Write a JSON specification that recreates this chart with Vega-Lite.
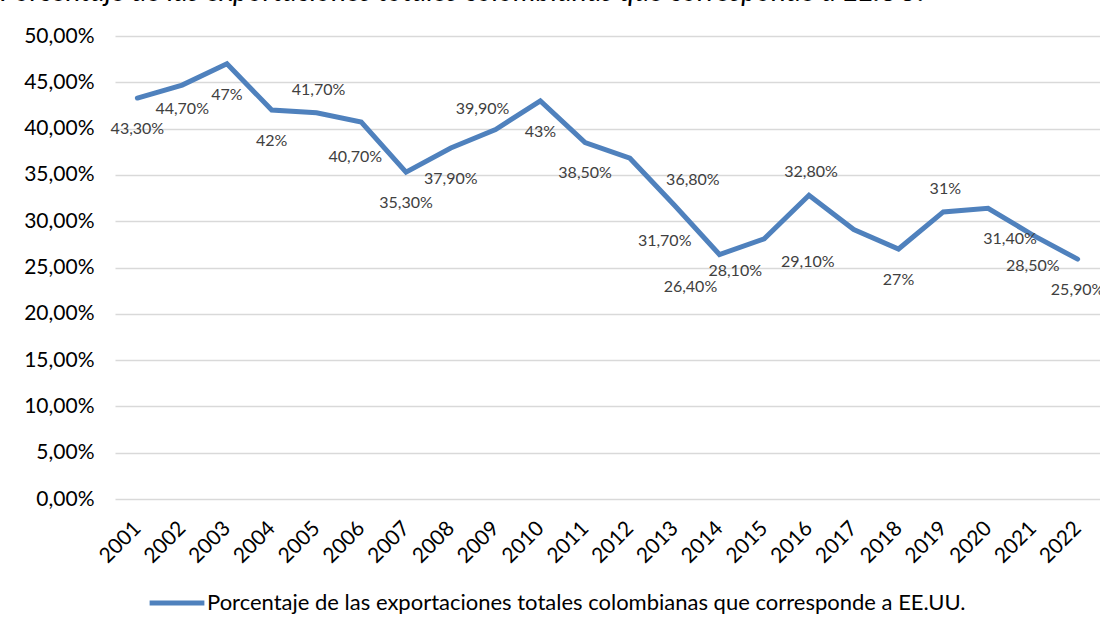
{
  "$schema": "https://vega.github.io/schema/vega-lite/v6.json",
  "width": 985,
  "height": 463,
  "autosize": {"type": "none"},
  "padding": {"left": 115, "top": 36, "right": 0, "bottom": 133},
  "title": {
    "text": "Porcentaje de las exportaciones totales colombianas que corresponde a EE.UU.",
    "anchor": "start",
    "frame": "group",
    "dx": -115,
    "dy": 12,
    "offset": 8,
    "baseline": "alphabetic",
    "fontStyle": "italic",
    "fontWeight": "normal",
    "fontSize": 28.5,
    "font": "Lato",
    "color": "#000000"
  },
  "data": {
    "values": [
      {"year": "2001", "value": 43.3, "label": "43,30%", "serie": "Porcentaje de las exportaciones totales colombianas que corresponde a EE.UU."},
      {"year": "2002", "value": 44.7, "label": "44,70%", "serie": "Porcentaje de las exportaciones totales colombianas que corresponde a EE.UU."},
      {"year": "2003", "value": 47.0, "label": "47%", "serie": "Porcentaje de las exportaciones totales colombianas que corresponde a EE.UU."},
      {"year": "2004", "value": 42.0, "label": "42%", "serie": "Porcentaje de las exportaciones totales colombianas que corresponde a EE.UU."},
      {"year": "2005", "value": 41.7, "label": "41,70%", "serie": "Porcentaje de las exportaciones totales colombianas que corresponde a EE.UU."},
      {"year": "2006", "value": 40.7, "label": "40,70%", "serie": "Porcentaje de las exportaciones totales colombianas que corresponde a EE.UU."},
      {"year": "2007", "value": 35.3, "label": "35,30%", "serie": "Porcentaje de las exportaciones totales colombianas que corresponde a EE.UU."},
      {"year": "2008", "value": 37.9, "label": "37,90%", "serie": "Porcentaje de las exportaciones totales colombianas que corresponde a EE.UU."},
      {"year": "2009", "value": 39.9, "label": "39,90%", "serie": "Porcentaje de las exportaciones totales colombianas que corresponde a EE.UU."},
      {"year": "2010", "value": 43.0, "label": "43%", "serie": "Porcentaje de las exportaciones totales colombianas que corresponde a EE.UU."},
      {"year": "2011", "value": 38.5, "label": "38,50%", "serie": "Porcentaje de las exportaciones totales colombianas que corresponde a EE.UU."},
      {"year": "2012", "value": 36.8, "label": "36,80%", "serie": "Porcentaje de las exportaciones totales colombianas que corresponde a EE.UU."},
      {"year": "2013", "value": 31.7, "label": "31,70%", "serie": "Porcentaje de las exportaciones totales colombianas que corresponde a EE.UU."},
      {"year": "2014", "value": 26.4, "label": "26,40%", "serie": "Porcentaje de las exportaciones totales colombianas que corresponde a EE.UU."},
      {"year": "2015", "value": 28.1, "label": "28,10%", "serie": "Porcentaje de las exportaciones totales colombianas que corresponde a EE.UU."},
      {"year": "2016", "value": 32.8, "label": "32,80%", "serie": "Porcentaje de las exportaciones totales colombianas que corresponde a EE.UU."},
      {"year": "2017", "value": 29.1, "label": "29,10%", "serie": "Porcentaje de las exportaciones totales colombianas que corresponde a EE.UU."},
      {"year": "2018", "value": 27.0, "label": "27%", "serie": "Porcentaje de las exportaciones totales colombianas que corresponde a EE.UU."},
      {"year": "2019", "value": 31.0, "label": "31%", "serie": "Porcentaje de las exportaciones totales colombianas que corresponde a EE.UU."},
      {"year": "2020", "value": 31.4, "label": "31,40%", "serie": "Porcentaje de las exportaciones totales colombianas que corresponde a EE.UU."},
      {"year": "2021", "value": 28.5, "label": "28,50%", "serie": "Porcentaje de las exportaciones totales colombianas que corresponde a EE.UU."},
      {"year": "2022", "value": 25.9, "label": "25,90%", "serie": "Porcentaje de las exportaciones totales colombianas que corresponde a EE.UU."}
    ]
  },
  "encoding": {
    "x": {
      "field": "year",
      "type": "ordinal",
      "scale": {"type": "point", "padding": 0.5},
      "axis": {
        "title": null,
        "labelAngle": -45,
        "labelAlign": "right",
        "labelBaseline": "middle",
        "labelFontSize": 21,
        "labelFont": "Lato",
        "labelColor": "#000000",
        "labelPadding": 26,
        "ticks": false,
        "domain": false,
        "grid": false
      }
    },
    "y": {
      "field": "value",
      "type": "quantitative",
      "scale": {"domain": [0, 50], "nice": false},
      "axis": {
        "title": null,
        "values": [0, 5, 10, 15, 20, 25, 30, 35, 40, 45, 50],
        "labelExpr": "replace(format(datum.value, '.2f'), '.', ',') + '%'",
        "labelFontSize": 21,
        "labelFont": "Lato",
        "labelColor": "#000000",
        "labelPadding": 21,
        "ticks": false,
        "domain": false,
        "grid": true,
        "gridColor": "#d9d9d9",
        "gridWidth": 1.5
      }
    }
  },
  "layer": [
    {
      "mark": {"type": "line", "strokeWidth": 5, "strokeCap": "round", "strokeJoin": "miter"},
      "encoding": {
        "color": {
          "field": "serie",
          "type": "nominal",
          "scale": {"range": ["#4f81bd"]},
          "legend": {
            "title": null,
            "orient": "none",
            "legendX": 32,
            "legendY": 537,
            "direction": "horizontal",
            "symbolType": "stroke",
            "symbolStrokeWidth": 5,
            "symbolSize": 3000,
            "labelFontSize": 22,
            "labelFont": "Lato",
            "labelColor": "#000000",
            "labelLimit": 1000,
            "labelOffset": 0
          }
        }
      }
    },
    {
      "transform": [{"filter": {"field": "year", "oneOf": ["2001", "2003", "2004", "2007", "2008", "2010", "2011", "2018", "2021", "2022"]}}],
      "mark": {"type": "text", "dx": 0, "dy": 31, "fontSize": 16, "font": "Lato", "color": "#404040"},
      "encoding": {"text": {"field": "label"}}
    },
    {
      "transform": [{"filter": {"field": "year", "oneOf": ["2002"]}}],
      "mark": {"type": "text", "dx": 0, "dy": 24, "fontSize": 16, "font": "Lato", "color": "#404040"},
      "encoding": {"text": {"field": "label"}}
    },
    {
      "transform": [{"filter": {"field": "year", "oneOf": ["2006"]}}],
      "mark": {"type": "text", "dx": -6, "dy": 35, "fontSize": 16, "font": "Lato", "color": "#404040"},
      "encoding": {"text": {"field": "label"}}
    },
    {
      "transform": [{"filter": {"field": "year", "oneOf": ["2005", "2016", "2019"]}}],
      "mark": {"type": "text", "dx": 2, "dy": -23, "fontSize": 16, "font": "Lato", "color": "#404040"},
      "encoding": {"text": {"field": "label"}}
    },
    {
      "transform": [{"filter": {"field": "year", "oneOf": ["2009"]}}],
      "mark": {"type": "text", "dx": -13, "dy": -21, "fontSize": 16, "font": "Lato", "color": "#404040"},
      "encoding": {"text": {"field": "label"}}
    },
    {
      "transform": [{"filter": {"field": "year", "oneOf": ["2012"]}}],
      "mark": {"type": "text", "dx": 63, "dy": 22, "fontSize": 16, "font": "Lato", "color": "#404040"},
      "encoding": {"text": {"field": "label"}}
    },
    {
      "transform": [{"filter": {"field": "year", "oneOf": ["2013"]}}],
      "mark": {"type": "text", "dx": -10, "dy": 36, "fontSize": 16, "font": "Lato", "color": "#404040"},
      "encoding": {"text": {"field": "label"}}
    },
    {
      "transform": [{"filter": {"field": "year", "oneOf": ["2014", "2015"]}}],
      "mark": {"type": "text", "dx": -29, "dy": 32, "fontSize": 16, "font": "Lato", "color": "#404040"},
      "encoding": {"text": {"field": "label"}}
    },
    {
      "transform": [{"filter": {"field": "year", "oneOf": ["2017"]}}],
      "mark": {"type": "text", "dx": -46, "dy": 32, "fontSize": 16, "font": "Lato", "color": "#404040"},
      "encoding": {"text": {"field": "label"}}
    },
    {
      "transform": [{"filter": {"field": "year", "oneOf": ["2020"]}}],
      "mark": {"type": "text", "dx": 22, "dy": 31, "fontSize": 16, "font": "Lato", "color": "#404040"},
      "encoding": {"text": {"field": "label"}}
    }
  ],
  "config": {
    "view": {"stroke": null},
    "background": "#ffffff"
  }
}
